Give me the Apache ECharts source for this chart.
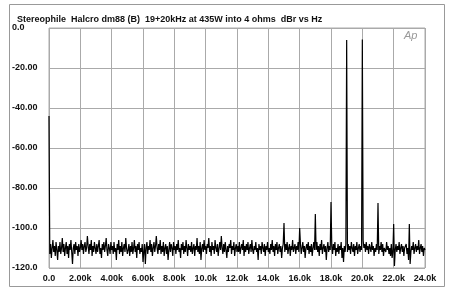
<!DOCTYPE html>
<html><head><meta charset="utf-8">
<script src="https://cdn.jsdelivr.net/npm/echarts@6/dist/echarts.min.js"></script>
<style>html,body{margin:0;padding:0;background:#fff}#c{width:450px;height:290px}</style>
</head><body><div id="c"></div>
<script>
const titleText = 'Stereophile  Halcro dm88 (B)  19+20kHz at 435W into 4 ohms  dBr vs Hz';
const freqStepHz = 50;
// noise floor, one value per 50 Hz from 0 Hz to 24 kHz (spike bins overridden below)
const noiseDb = [
 -110,
 -113,-108,-115,-110,-106,-112,-109,-114,-107,-111,-116,-109,-112,-107,-113,-110,-105,-112,-108,-114,
 -110,-107,-113,-109,-115,-108,-111,-106,-112,-118,-110,-108,-113,-107,-111,-109,-114,-108,-112,-110,
 -106,-111,-108,-113,-109,-107,-112,-110,-104,-109,-113,-108,-111,-106,-114,-109,-112,-107,-110,-113,
 -108,-112,-109,-106,-113,-110,-115,-108,-111,-107,-112,-109,-105,-111,-114,-108,-110,-113,-107,-111,
 -109,-113,-107,-112,-110,-116,-108,-111,-106,-113,-109,-112,-107,-114,-110,-108,-112,-105,-110,-113,
 -111,-108,-114,-109,-112,-107,-113,-110,-106,-112,-109,-115,-108,-111,-107,-113,-110,-112,-108,-117,
 -112,-108,-118,-110,-107,-113,-109,-111,-106,-112,-108,-114,-110,-107,-112,-109,-104,-110,-113,-108,
 -111,-106,-113,-109,-112,-107,-114,-110,-108,-113,-109,-116,-111,-107,-112,-108,-110,-114,-107,-111,
 -109,-113,-108,-111,-106,-112,-110,-115,-108,-111,-107,-113,-109,-112,-106,-110,-114,-108,-111,-109,
 -112,-107,-113,-110,-108,-114,-109,-111,-105,-112,-109,-113,-107,-116,-110,-108,-112,-106,-111,-109,
 -113,-108,-110,-105,-112,-109,-114,-107,-111,-109,-113,-106,-110,-112,-108,-114,-110,-107,-111,-104,
 -110,-113,-108,-112,-107,-111,-115,-109,-112,-108,-110,-106,-113,-109,-111,-107,-114,-110,-108,-112,
 -109,-112,-107,-113,-110,-108,-111,-106,-114,-109,-112,-108,-111,-107,-113,-110,-108,-112,-106,-111,
 -113,-109,-111,-107,-112,-110,-116,-108,-111,-109,-113,-107,-110,-112,-108,-114,-109,-111,-107,-112,
 -110,-113,-108,-111,-106,-112,-109,-114,-108,-111,-107,-113,-110,-108,-112,-109,-115,-110,-108,-111,
 -112,-108,-111,-107,-113,-110,-108,-114,-109,-111,-106,-112,-110,-108,-113,-109,-111,-107,-112,-110,
 -108,-113,-110,-107,-112,-109,-115,-110,-108,-111,-107,-113,-109,-112,-108,-114,-110,-107,-111,-110,
 -111,-107,-112,-109,-114,-108,-111,-106,-113,-110,-108,-112,-109,-116,-110,-107,-112,-109,-111,-110,
 -109,-113,-108,-111,-107,-114,-110,-112,-108,-113,-109,-111,-107,-115,-110,-117,-109,-112,-108,-110,
 -112,-108,-111,-109,-113,-107,-110,-112,-108,-114,-109,-111,-107,-113,-110,-108,-112,-109,-111,-110,
 -106,-110,-108,-112,-107,-111,-109,-113,-108,-110,-112,-107,-111,-109,-114,-110,-112,-108,-111,-110,
 -113,-109,-111,-107,-112,-108,-114,-110,-109,-112,-107,-111,-109,-113,-110,-114,-108,-115,-112,-110,
 -119,-111,-108,-112,-109,-111,-107,-113,-110,-108,-112,-109,-114,-110,-111,-108,-113,-110,-116,-110,
 -118,-112,-109,-111,-107,-113,-110,-108,-112,-109,-111,-106,-113,-110,-108,-112,-109,-114,-110,-111
];
const spikeHz = [0, 15000, 16000, 17000, 18000, 19000, 20000, 21000, 22000, 23000];
const spikeDb = [-44, -97.5, -100, -93, -87, -6, -5.7, -87.5, -98, -98];
const xTickLabels = ['0.0','2.00k','4.00k','6.00k','8.00k','10.0k','12.0k','14.0k','16.0k','18.0k','20.0k','22.0k','24.0k'];
const yTickValues = [0, -20, -40, -60, -80, -100, -120];
const yTickLabels = ['0.0','-20.00','-40.00','-60.00','-80.00','-100.0','-120.0'];

const series = noiseDb.map((v, i) => [i * freqStepHz, v]);
spikeHz.forEach((f, k) => { series[Math.round(f / freqStepHz)][1] = spikeDb[k]; });

const chart = echarts.init(document.getElementById('c'), null, {renderer: 'canvas'});
const lblFont = {color: '#111', fontFamily: 'Liberation Sans, Arial, sans-serif', fontWeight: 'bold', fontSize: 9};
chart.setOption({
  animation: false,
  backgroundColor: '#fff',
  title: {text: titleText, left: 12, top: 10, textStyle: {color: '#111', fontFamily: 'Liberation Sans, Arial, sans-serif', fontWeight: 'bold', fontSize: 9}},
  grid: {left: 49, top: 28, width: 376, height: 240, show: true, borderColor: '#aaa', borderWidth: 1},
  xAxis: {
    type: 'value', min: 0, max: 24000, interval: 2000,
    axisLine: {show: false}, axisTick: {show: false},
    splitLine: {show: true, lineStyle: {color: '#aaa', width: 1}},
    axisLabel: Object.assign({margin: 6, formatter: v => xTickLabels[Math.round(v / 2000)]}, lblFont)
  },
  yAxis: {
    type: 'value', min: -120, max: 0, interval: 20,
    axisLine: {show: false}, axisTick: {show: false},
    splitLine: {show: true, lineStyle: {color: '#aaa', width: 1}},
    axisLabel: Object.assign({margin: 37, align: 'left', formatter: v => yTickLabels[yTickValues.indexOf(v)]}, lblFont)
  },
  graphic: [
    {type: 'rect', shape: {x: 9.5, y: 4.5, width: 435, height: 282}, style: {fill: 'none', stroke: '#999', lineWidth: 1}, silent: true},
    {type: 'text', left: 404, top: 30, style: {text: 'Ap', fill: '#999', font: 'italic 11px Liberation Sans, Arial, sans-serif'}}
  ],
  series: [{type: 'line', data: series, symbol: 'none', lineStyle: {color: '#000', width: 1.2}}]
});
</script></body></html>
